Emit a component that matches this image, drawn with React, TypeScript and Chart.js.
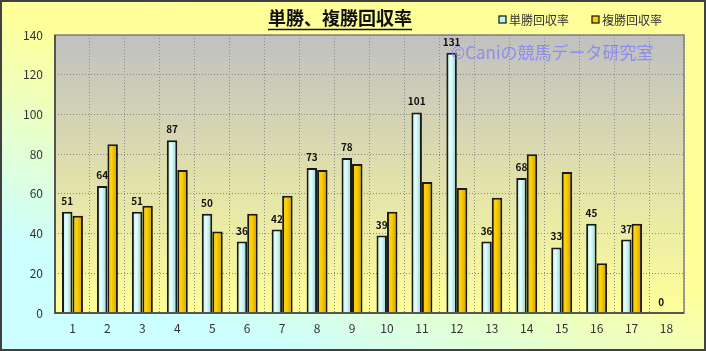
import React, { useEffect, useRef } from "react";
import { Chart, registerables } from "chart.js";

Chart.register(...registerables);

const categories = ["1", "2", "3", "4", "5", "6", "7", "8", "9", "10", "11", "12", "13", "14", "15", "16", "17", "18"];
const winRates = [51, 64, 51, 87, 50, 36, 42, 73, 78, 39, 101, 131, 36, 68, 33, 45, 37, 0];
const placeRates = [49, 85, 54, 72, 41, 50, 59, 72, 75, 51, 66, 63, 58, 80, 71, 25, 45, 0];
const seriesNames = ["単勝回収率", "複勝回収率"];
const titleText = "単勝、複勝回収率";
const watermarkText = "©Caniの競馬データ研究室";
const yMin = 0;
const yMax = 140;
const yStep = 20;

const FONT = "'Noto Sans CJK JP', 'Noto Sans', sans-serif";

function barGradient(ctx: any, kind: number) {
  const chart = ctx.chart;
  if (!chart.chartArea || !chart.scales || !chart.scales.x) {
    return kind === 0 ? "#c0f4f4" : "#ffcc00";
  }
  const cx = chart.scales.x.getPixelForValue(ctx.dataIndex);
  const x0 = kind === 0 ? cx - 10 : cx;
  const x1 = x0 + 10;
  const g = chart.ctx.createLinearGradient(x0, 0, x1, 0);
  if (kind === 0) {
    g.addColorStop(0, "#b8eeee");
    g.addColorStop(0.4, "#e4ffff");
    g.addColorStop(1, "#8ccccc");
  } else {
    g.addColorStop(0, "#f5c000");
    g.addColorStop(0.4, "#ffd400");
    g.addColorStop(1, "#d09c00");
  }
  return g;
}

const decorPlugin = {
  id: "decor",
  beforeDraw(chart: any) {
    const { ctx, width, height, chartArea } = chart;
    ctx.save();
    const bg = ctx.createLinearGradient(width * 0.6, 0, width * 0.4, height);
    bg.addColorStop(0, "#ffff99");
    bg.addColorStop(0.45, "#ffff9c");
    bg.addColorStop(1, "#ccffff");
    ctx.fillStyle = bg;
    ctx.fillRect(0, 0, width, height);
    if (chartArea) {
      const pg = ctx.createLinearGradient(0, chartArea.top, 0, chartArea.bottom);
      pg.addColorStop(0, "#c0c0c0");
      pg.addColorStop(1, "#ffff99");
      ctx.fillStyle = pg;
      ctx.fillRect(chartArea.left, chartArea.top, chartArea.right - chartArea.left, chartArea.bottom - chartArea.top);
    }
    ctx.restore();
  },
  afterDatasetsDraw(chart: any) {
    const { ctx, width, height, chartArea } = chart;
    ctx.save();
    // data labels for win series
    const meta = chart.getDatasetMeta(0);
    ctx.font = `bold 10px ${FONT}`;
    ctx.fillStyle = "#111";
    ctx.textAlign = "center";
    ctx.textBaseline = "alphabetic";
    meta.data.forEach((el: any, i: number) => {
      ctx.fillText(String(winRates[i]), el.x, el.y - 7);
    });
    // plot border
    ctx.strokeStyle = "#808080";
    ctx.lineWidth = 1.5;
    ctx.strokeRect(chartArea.left, chartArea.top, chartArea.right - chartArea.left, chartArea.bottom - chartArea.top);
    ctx.strokeStyle = "#404040";
    ctx.beginPath();
    ctx.moveTo(chartArea.left, chartArea.top);
    ctx.lineTo(chartArea.left, chartArea.bottom);
    ctx.lineTo(chartArea.right, chartArea.bottom);
    ctx.stroke();
    // watermark
    ctx.font = `17px ${FONT}`;
    ctx.fillStyle = "rgba(130,130,255,0.85)";
    ctx.textAlign = "left";
    ctx.textBaseline = "middle";
    ctx.fillText(watermarkText, 451, 53);
    // title
    ctx.font = `bold 18px ${FONT}`;
    ctx.fillStyle = "#111";
    ctx.textAlign = "center";
    ctx.textBaseline = "middle";
    const tx = 340;
    ctx.fillText(titleText, tx, 18);
    const tw = ctx.measureText(titleText).width;
    ctx.strokeStyle = "#111";
    ctx.lineWidth = 1.5;
    ctx.beginPath();
    ctx.moveTo(tx - tw / 2, 29.5);
    ctx.lineTo(tx + tw / 2, 29.5);
    ctx.stroke();
    // legend
    const legendItems = [
      { x: 499, color: "#c0f4f4", label: seriesNames[0] },
      { x: 592, color: "#ffcc00", label: seriesNames[1] },
    ];
    ctx.font = `12px ${FONT}`;
    ctx.textAlign = "left";
    ctx.textBaseline = "middle";
    legendItems.forEach((it) => {
      ctx.fillStyle = it.color;
      ctx.fillRect(it.x, 16, 7, 7);
      ctx.strokeStyle = "#111";
      ctx.lineWidth = 1.2;
      ctx.strokeRect(it.x, 16, 7, 7);
      ctx.fillStyle = "#333";
      ctx.fillText(it.label, it.x + 10, 20);
    });
    // outer border
    ctx.strokeStyle = "#404040";
    ctx.lineWidth = 2;
    ctx.strokeRect(1, 1, width - 2, height - 2);
    ctx.restore();
  },
};

export default function App() {
  const ref = useRef<HTMLCanvasElement | null>(null);
  useEffect(() => {
    document.body.style.margin = "0";
    const canvas = ref.current;
    if (!canvas) return;
    const chart = new Chart(canvas, {
      type: "bar",
      data: {
        labels: categories,
        datasets: [
          {
            label: seriesNames[0],
            data: winRates,
            backgroundColor: (c: any) => barGradient(c, 0),
            borderColor: "#1a1a1a",
            borderWidth: 2,
          },
          {
            label: seriesNames[1],
            data: placeRates,
            backgroundColor: (c: any) => barGradient(c, 1),
            borderColor: "#1a1a1a",
            borderWidth: 2,
          },
        ],
      },
      options: {
        responsive: false,
        animation: false,
        devicePixelRatio: 1,
        layout: { padding: { top: 35, right: 22, bottom: 0, left: 0 } },
        datasets: { bar: { barPercentage: 1, categoryPercentage: 0.6 } },
        plugins: {
          legend: { display: false },
          title: { display: false },
          tooltip: { enabled: false },
        },
        scales: {
          x: {
            grid: {
              display: true,
              offset: true,
              color: "#8a8a8a",
              lineWidth: 1,
              drawTicks: false,
            },
            border: { display: false, dash: [1, 2] },
            ticks: {
              color: "#333",
              font: { family: FONT, size: 12 },
              padding: 8,
              maxRotation: 0,
            },
            afterFit: (s: any) => {
              s.height = 38;
            },
          },
          y: {
            min: yMin,
            max: yMax,
            grid: {
              color: "#8a8a8a",
              lineWidth: 1,
              drawTicks: false,
            },
            border: { display: false, dash: [1, 2] },
            ticks: {
              stepSize: yStep,
              color: "#333",
              font: { family: FONT, size: 12 },
              padding: 12,
            },
            afterFit: (s: any) => {
              s.width = 55;
            },
          },
        },
      } as any,
      plugins: [decorPlugin],
    });
    return () => chart.destroy();
  }, []);
  return <canvas ref={ref} width={706} height={351} style={{ display: "block" }} />;
}
